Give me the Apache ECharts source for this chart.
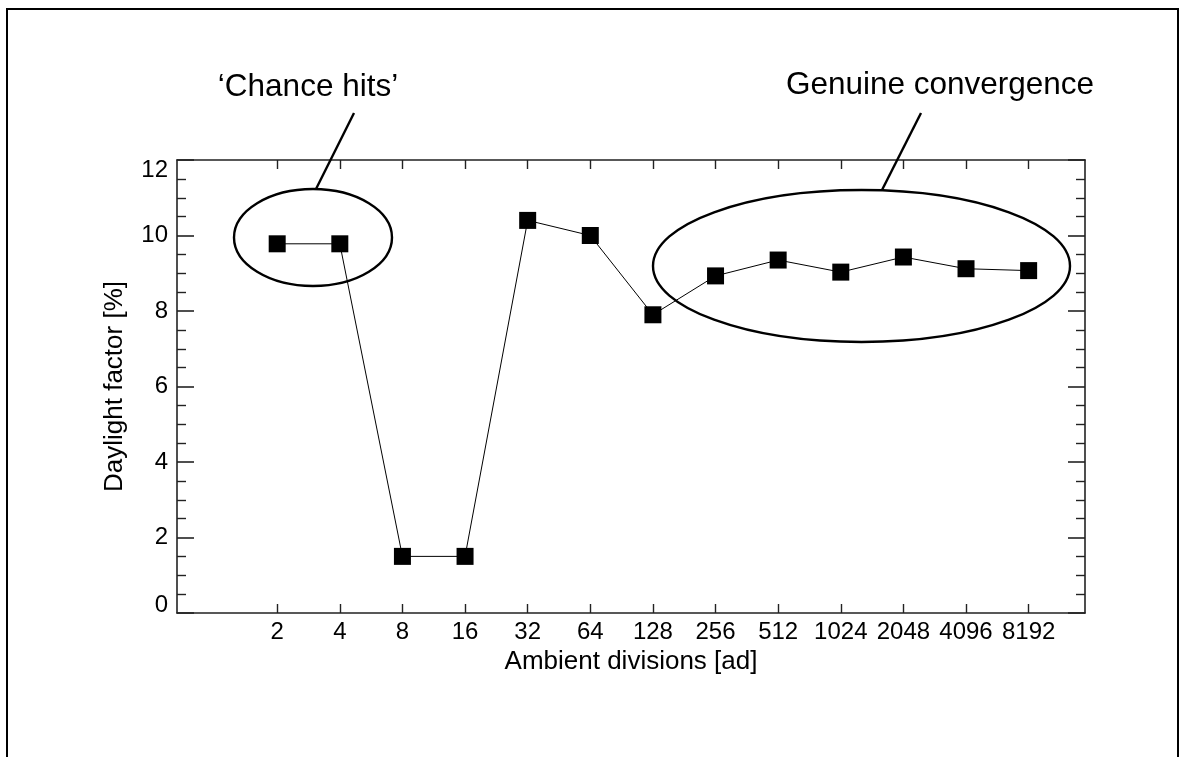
<!DOCTYPE html>
<html>
<head>
<meta charset="utf-8">
<script src="https://cdn.jsdelivr.net/npm/echarts@6/dist/echarts.min.js"></script>
<style>
html,body{margin:0;padding:0;background:#fff;}
#chart{width:1186px;height:757px;}
</style>
</head>
<body>
<div id="chart"></div>
<script>
// ---- data ----
const categories = ['2','4','8','16','32','64','128','256','512','1024','2048','4096','8192'];
const daylightFactor = [9.78, 9.78, 1.5, 1.5, 10.4, 10.0, 7.9, 8.93, 9.35, 9.03, 9.43, 9.12, 9.07];
const yTicks = [0, 2, 4, 6, 8, 10, 12];
const annotations = ['\u2018Chance hits\u2019', 'Genuine convergence'];

// ---- chart ----
const FONT = '"Liberation Sans", Arial, sans-serif';
const positions = categories.map((c, i) => i + 1);
const seriesData = daylightFactor.map((v, i) => [positions[i], v]);
const yMin = yTicks[0], yMax = yTicks[yTicks.length - 1];

const chart = echarts.init(document.getElementById('chart'), null, {renderer: 'canvas'});

const axisLine = {show: true, onZero: false, lineStyle: {color: '#222', width: 1.6}};
const labelFont = {fontFamily: FONT, fontSize: 24, color: '#000'};

const option = {
  backgroundColor: '#fff',
  animation: false,
  grid: {left: 177, right: 101, top: 160, bottom: 144, containLabel: false},
  xAxis: [{
    type: 'value', position: 'bottom',
    min: -0.6, max: 13.9,
    axisLine: axisLine,
    splitLine: {show: false},
    axisTick: {show: true, inside: true, length: 9, lineStyle: {color: '#222', width: 1.4}, customValues: positions},
    axisLabel: Object.assign({
      show: true, customValues: positions, margin: 7,
      formatter: v => categories[Math.round(v) - 1] || ''
    }, labelFont),
    name: 'Ambient divisions [ad]', nameLocation: 'middle', nameGap: 33,
    nameTextStyle: {fontFamily: FONT, fontSize: 26, color: '#000'}
  }, {
    type: 'value', position: 'top',
    min: -0.6, max: 13.9,
    axisLine: axisLine,
    splitLine: {show: false},
    axisTick: {show: true, inside: true, length: 9, lineStyle: {color: '#222', width: 1.4}, customValues: positions},
    axisLabel: {show: false}
  }],
  yAxis: [{
    type: 'value', position: 'left',
    min: yMin, max: yMax, interval: 2,
    axisLine: axisLine,
    splitLine: {show: false},
    axisTick: {show: true, inside: true, length: 17, lineStyle: {color: '#222', width: 1.6}},
    minorTick: {show: true, splitNumber: 4, length: 9, lineStyle: {color: '#222', width: 1.4}},
    axisLabel: Object.assign({
      show: true, margin: 9, customValues: yTicks,
      formatter: v => v === yMax ? '{t|' + v + '}' : (v === yMin ? '{b|' + v + '}' : String(v)),
      rich: {
        t: Object.assign({padding: [20, 0, 0, 0]}, labelFont),
        b: Object.assign({padding: [0, 0, 15, 0]}, labelFont)
      }
    }, labelFont),
    name: 'Daylight factor [%]', nameLocation: 'middle', nameGap: 49,
    nameTextStyle: {fontFamily: FONT, fontSize: 26, color: '#000'}
  }, {
    type: 'value', position: 'right',
    min: yMin, max: yMax, interval: 2,
    axisLine: axisLine,
    splitLine: {show: false},
    axisTick: {show: true, inside: true, length: 17, lineStyle: {color: '#222', width: 1.6}},
    minorTick: {show: true, splitNumber: 4, length: 9, lineStyle: {color: '#222', width: 1.4}},
    axisLabel: {show: false}
  }],
  series: [{
    type: 'line',
    xAxisIndex: 0, yAxisIndex: 0,
    data: seriesData,
    symbol: 'rect', symbolSize: 17,
    showSymbol: true,
    lineStyle: {color: '#000', width: 1},
    itemStyle: {color: '#000'},
    z: 5
  }],
  graphic: [
    {type: 'rect', shape: {x: 7, y: 9, width: 1171, height: 820},
      style: {fill: 'none', stroke: '#000', lineWidth: 2}, silent: true},
    {type: 'ellipse', shape: {cx: 313, cy: 237.5, rx: 79, ry: 48.5},
      style: {fill: 'none', stroke: '#000', lineWidth: 2.4}, z: 10},
    {type: 'line', shape: {x1: 316, y1: 189, x2: 354, y2: 113},
      style: {stroke: '#000', lineWidth: 2.4}, z: 10},
    {type: 'text', x: 308, y: 87,
      style: {text: annotations[0], font: '31.5px ' + FONT, fill: '#000', align: 'center', verticalAlign: 'middle'}, z: 10},
    {type: 'ellipse', shape: {cx: 861.5, cy: 266, rx: 208.5, ry: 76},
      style: {fill: 'none', stroke: '#000', lineWidth: 2.4}, z: 10},
    {type: 'line', shape: {x1: 882, y1: 190, x2: 921, y2: 113},
      style: {stroke: '#000', lineWidth: 2.4}, z: 10},
    {type: 'text', x: 940, y: 85,
      style: {text: annotations[1], font: '31.5px ' + FONT, fill: '#000', align: 'center', verticalAlign: 'middle'}, z: 10}
  ]
};
chart.setOption(option);
</script>
</body>
</html>
